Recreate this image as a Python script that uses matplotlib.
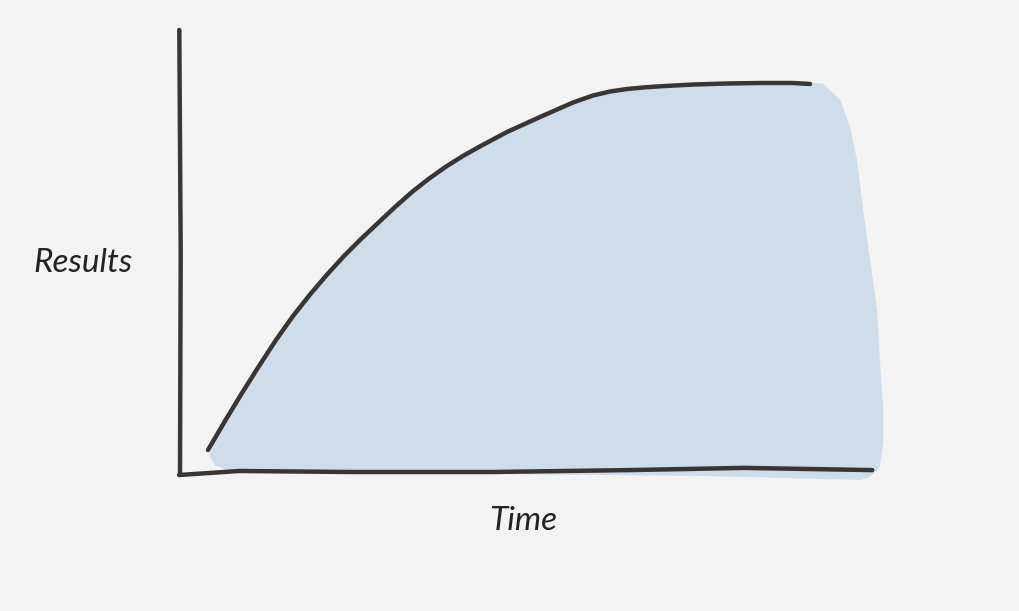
import matplotlib
matplotlib.use("Agg")
import matplotlib.pyplot as plt

# hand-drawn curve: results over time (0-100 on both axes)
curve_t = [4.03, 6.47, 8.92, 11.37, 13.81, 16.26, 18.71, 21.15, 23.60, 26.04, 28.49, 30.94,
           33.38, 35.83, 38.27, 40.72, 43.17, 47.05, 51.80, 56.55, 59.42, 61.87, 64.32,
           66.91, 69.06, 73.81, 78.71, 83.45, 88.20, 90.65]
curve_r = [5.62, 12.13, 18.43, 24.49, 30.34, 35.73, 40.56, 45.03, 49.21, 53.03, 56.63, 60.22,
           63.60, 66.60, 69.30, 71.70, 73.85, 77.08, 80.45, 83.71, 85.28, 86.18, 86.74,
           87.12, 87.35, 87.75, 87.98, 88.09, 88.09, 87.87]

# shaded area under the curve (rough brush outline, clockwise from bottom-left)
shade_t = [4.2, 6.47, 8.92, 11.37, 13.81, 16.26, 18.71, 21.15, 23.60, 26.04, 28.49, 30.94,
           33.38, 35.83, 38.27, 40.72, 43.17, 47.05, 51.80, 56.55, 59.42, 61.87, 64.32,
           66.91, 69.06, 73.81, 78.71, 83.45, 88.20, 90.65, 92.5, 95.0, 96.4, 97.4, 98.3,
           99.3, 100.3, 100.7, 101.2, 101.2, 100.7, 99.3, 97.8, 74.8, 46.0, 17.3, 7.2, 5.0]
shade_r = [4.5, 12.4, 18.7, 24.8, 30.7, 36.1, 41.0, 45.5, 49.6, 53.4, 57.0, 60.5,
           63.9, 66.9, 69.6, 72.0, 74.1, 77.3, 80.7, 84.0, 85.6, 86.5, 87.0,
           87.4, 87.6, 88.0, 88.2, 88.4, 88.4, 88.2, 87.9, 84.3, 78.2, 70.8, 59.6,
           48.3, 37.1, 25.8, 14.6, 7.2, 1.8, -0.4, -1.1, -0.2, 0.2, 0.4, 0.9, 2.2]

# wobbly axis strokes
xaxis_t = [-0.14, 8.5, 25.0, 44.7, 64.6, 81.2, 99.6]
xaxis_r = [0.0, 0.9, 0.67, 0.67, 1.1, 1.6, 1.1]
yaxis_t = [-0.1, 0.1, 0.0]
yaxis_r = [100.0, 50.0, 0.0]

INK = "#3a3535"
FILL = "#cfdcea"
BG = "#f3f3f3"

fig = plt.figure(figsize=(10.19, 6.11), dpi=100, facecolor=BG)
ax = fig.add_axes([180 / 1019, (611 - 475) / 611, 695 / 1019, 445 / 611])
ax.set_facecolor(BG)
ax.set_xlim(0, 100)
ax.set_ylim(0, 100)
ax.axis("off")

ax.fill(shade_t, shade_r, color=FILL, lw=0, clip_on=False, zorder=1)
for xs, ys in [(curve_t, curve_r), (xaxis_t, xaxis_r), (yaxis_t, yaxis_r)]:
    ax.plot(xs, ys, color=INK, lw=3.2, solid_capstyle="round",
            solid_joinstyle="round", clip_on=False, zorder=3)

fig.text(83 / 1019, 1 - 263 / 611, "Results", family="Lato", style="italic",
         fontsize=24, color="#222222", ha="center", va="center")
fig.text(523 / 1019, 1 - 521 / 611, "Time", family="Lato", style="italic",
         fontsize=24, color="#222222", ha="center", va="center")

fig.savefig("out.png", dpi=100, facecolor=BG)
